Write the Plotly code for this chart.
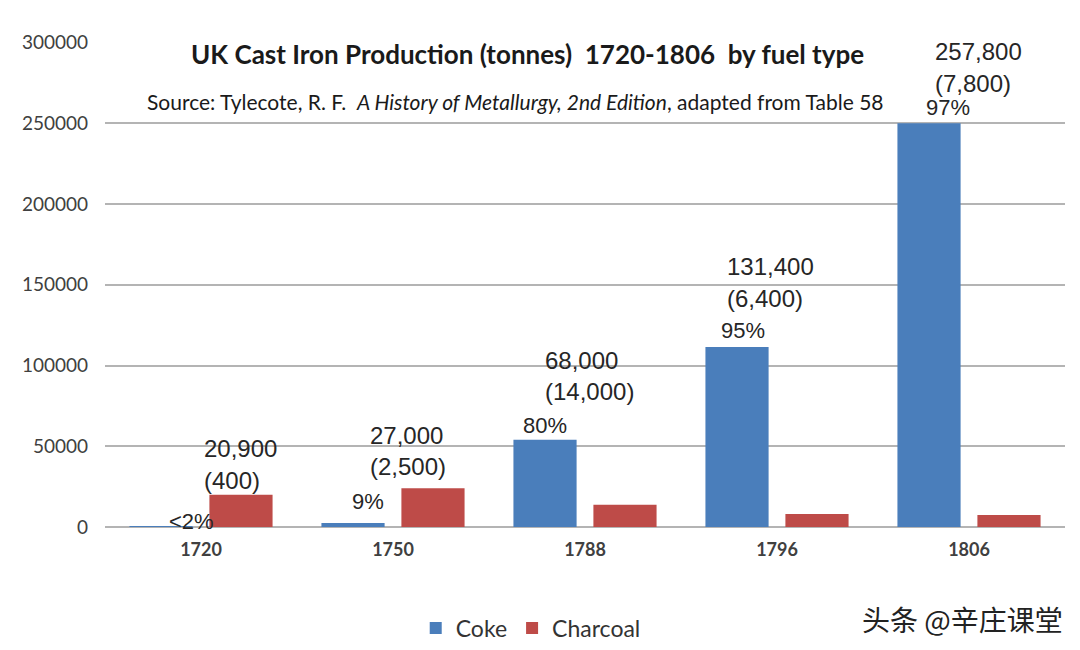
import plotly.graph_objects as go

years = ["1720", "1750", "1788", "1796", "1806"]
coke = [400, 2500, 54000, 111500, 250000]
charcoal = [20000, 24000, 13800, 8000, 7400]
total_labels = ["20,900", "27,000", "68,000", "131,400", "257,800"]
charcoal_labels = ["(400)", "(2,500)", "(14,000)", "(6,400)", "(7,800)"]
pct_labels = ["<2%", "9%", "80%", "95%", "97%"]

BLUE = "#4A7EBB"
RED = "#BE4B48"

fig = go.Figure()
fig.add_trace(go.Bar(x=years, y=coke, name="Coke", marker=dict(color=BLUE, line=dict(width=0))))
fig.add_trace(go.Bar(x=years, y=charcoal, name="Charcoal", marker=dict(color=RED, line=dict(width=0))))

lab_font = dict(family="Liberation Sans, Arial, sans-serif", size=24, color="#262626")
pct_font = dict(family="Liberation Sans, Arial, sans-serif", size=22, color="#262626")

# label placement (pixel shifts)
pct_dx = [-34, -43, -64, -58, -45]
tot_dx = [1, -25, -42, -52, -36]
# anchor bar for the total / charcoal lines: charcoal for first two, coke otherwise
anchor_vals = [charcoal[0], charcoal[1], coke[2], coke[3], coke[4]]
paren_dy = [14, 22, 48, 48, 40]
total_dy = [46, 53, 79, 80, 72]
pct_dy = [5, 21, 14, 16, 16]

for i, yr in enumerate(years):
    fig.add_annotation(x=i, y=coke[i], text=pct_labels[i], showarrow=False,
                       xanchor="left", yanchor="middle", xshift=pct_dx[i], yshift=pct_dy[i],
                       font=pct_font)
    fig.add_annotation(x=i, y=anchor_vals[i], text=charcoal_labels[i], showarrow=False,
                       xanchor="left", yanchor="middle", xshift=tot_dx[i], yshift=paren_dy[i],
                       font=lab_font)
    fig.add_annotation(x=i, y=anchor_vals[i], text=total_labels[i], showarrow=False,
                       xanchor="left", yanchor="middle", xshift=tot_dx[i], yshift=total_dy[i],
                       font=lab_font)

fig.add_annotation(xref="paper", yref="paper", x=0.44, y=0.975,
                   text="<b>UK Cast Iron Production (tonnes)  1720-1806  by fuel type</b>",
                   showarrow=False, xanchor="center", yanchor="middle",
                   font=dict(family="Lato, Open Sans, sans-serif", size=26, color="#1a1a1a"))
fig.add_annotation(xref="paper", yref="paper", x=0.428, y=0.878,
                   text="Source: Tylecote, R. F.  <i>A History of Metallurgy, 2nd Edition</i>, adapted from Table 58",
                   showarrow=False, xanchor="center", yanchor="middle",
                   font=dict(family="Lato, Open Sans, sans-serif", size=21, color="#1a1a1a"))
fig.add_annotation(xref="paper", yref="paper", x=0.893, y=-0.19,
                   text="头条 @辛庄课堂", showarrow=False, xanchor="center", yanchor="middle",
                   font=dict(family="Noto Sans CJK SC", size=28, color="#222222"))

# the page body adds an 8px offset, so margins are shifted to compensate
fig.update_layout(
    width=1080, height=650,
    margin=dict(l=97, r=23, t=34, b=131, autoexpand=False),
    paper_bgcolor="white", plot_bgcolor="white",
    barmode="group", bargap=0.167, bargroupgap=0.21,
    showlegend=True,
    legend=dict(orientation="h", xref="container", yref="container", x=0.484, y=0.046,
                xanchor="center", yanchor="middle",
                font=dict(family="Lato, Open Sans, sans-serif", size=23, color="#333333"),
                itemwidth=30, traceorder="normal"),
    xaxis=dict(type="category", range=[-0.5, 4.5], showgrid=False, showline=False, zeroline=False, ticks="",
               automargin=False,
               tickfont=dict(family="Lato, Open Sans, sans-serif", size=18, color="#404040", weight="bold"),
               ticklabelstandoff=10),
    yaxis=dict(range=[0, 300400], tickvals=[0, 50000, 100000, 150000, 200000, 250000, 300000],
               tickformat="d", showgrid=True, automargin=False,
               gridcolor="#B4B4B4", gridwidth=1.5, zeroline=True, zerolinecolor="#B4B4B4",
               zerolinewidth=1.5, showline=False, ticks="",
               tickfont=dict(family="Lato, Open Sans, sans-serif", size=19, color="#404040"),
               ticklabelstandoff=16),
)

fig.write_html("out.html")
